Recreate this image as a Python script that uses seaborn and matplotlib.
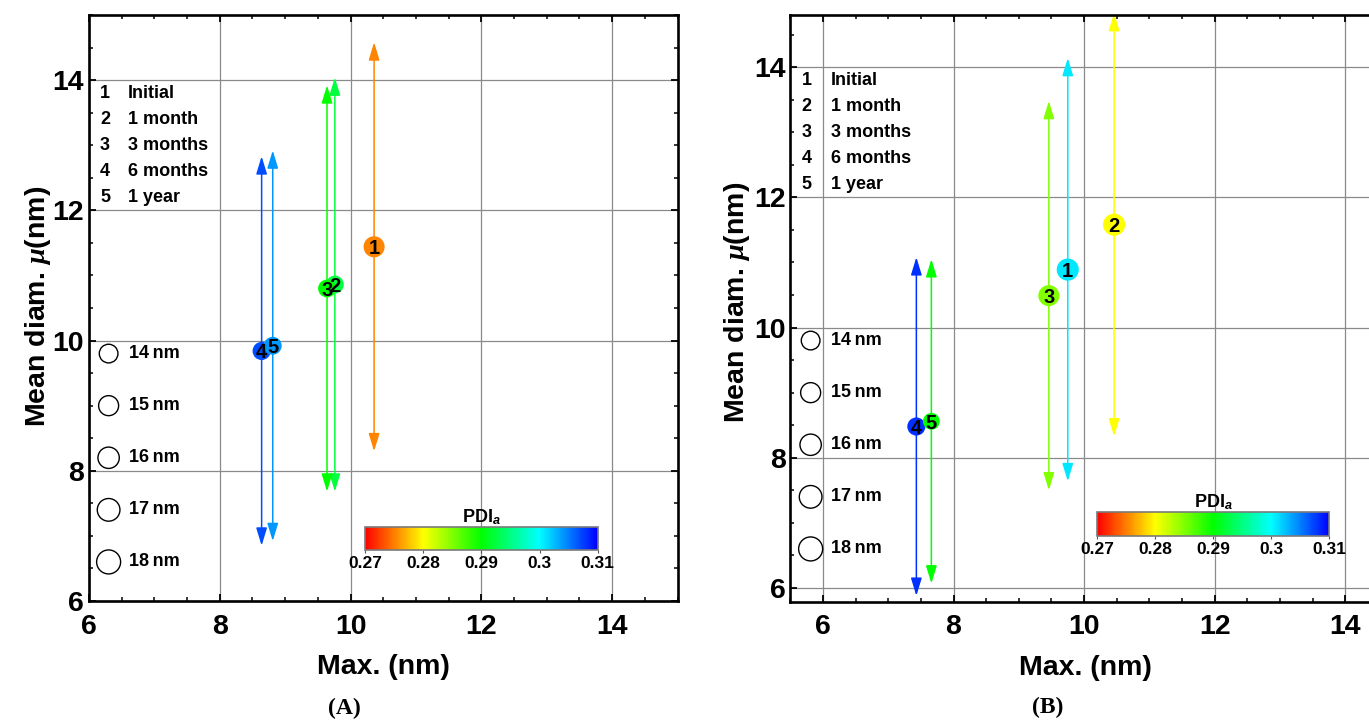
import numpy as np
import pandas as pd
import matplotlib
matplotlib.use("Agg")
import matplotlib.pyplot as plt
import seaborn as sns
from matplotlib.colors import LinearSegmentedColormap, Normalize, hsv_to_rgb
from matplotlib.cm import ScalarMappable
from matplotlib.patches import FancyArrowPatch
from matplotlib.ticker import MultipleLocator

# ---- data -------------------------------------------------------------
point_labels = ["1", "2", "3", "4", "5"]
periods = ["Initial", "1 month", "3 months", "6 months", "1 year"]
size_key_nm = [14, 15, 16, 17, 18]
pdi_ticks = [0.27, 0.28, 0.29, 0.30, 0.31]
pdi_tick_labels = ["0.27", "0.28", "0.29", "0.3", "0.31"]

# panel A
a_max = [10.36, 9.76, 9.64, 8.64, 8.81]
a_mean = [11.44, 10.86, 10.80, 9.84, 9.92]
a_sd = [3.14, 3.18, 3.12, 2.99, 3.00]
a_pdi = [0.2753, 0.2925, 0.2900, 0.3070, 0.3040]
a_size = [15.8, 13.4, 13.4, 13.6, 13.4]

# panel B
b_max = [9.75, 10.46, 9.46, 7.43, 7.66]
b_mean = [10.89, 11.58, 10.49, 8.48, 8.56]
b_sd = [3.25, 3.25, 2.99, 2.60, 2.49]
b_pdi = [0.3008, 0.2800, 0.2850, 0.3080, 0.2900]
b_size = [16.6, 16.6, 15.8, 13.6, 12.6]

# ---- style ------------------------------------------------------------
sns.set_style("white")
plt.rcParams["font.family"] = ["Liberation Sans", "DejaVu Sans"]
plt.rcParams["font.weight"] = "bold"
plt.rcParams["text.color"] = "black"
plt.rcParams["axes.labelcolor"] = "black"
plt.rcParams["xtick.color"] = "black"
plt.rcParams["ytick.color"] = "black"
plt.rcParams["mathtext.fontset"] = "custom"
plt.rcParams["mathtext.it"] = "Liberation Serif:italic"
plt.rcParams["mathtext.sf"] = "Liberation Sans:italic:bold"
plt.rcParams["mathtext.rm"] = "Liberation Sans:bold"

# red -> yellow -> green -> cyan -> blue
hues = np.linspace(0.0, 2.0 / 3.0, 256)
cmap = LinearSegmentedColormap.from_list(
    "pdi", hsv_to_rgb(np.column_stack([hues, np.ones(256), np.ones(256)])))
norm = Normalize(vmin=0.27, vmax=0.31)


def area(nm):
    return (0.96 * nm) ** 2


def draw_panel(ax, xs, ys, sds, pdis, sizes, xlim, ylim, key_num_x, key_txt_x,
               ring_x, ring_txt_x, cbar_box):
    ax.set_xlim(*xlim)
    ax.set_ylim(*ylim)

    for x, y, sd, p in zip(xs, ys, sds, pdis):
        arr = FancyArrowPatch((x, y - sd), (x, y + sd),
                              arrowstyle="<|-|>,head_length=1.08,head_width=0.33",
                              mutation_scale=10, color=cmap(norm(p)), lw=1.1,
                              shrinkA=0, shrinkB=0, zorder=2)
        ax.add_patch(arr)

    df = pd.DataFrame({"max": xs, "mean": ys, "pdi": pdis, "size": sizes})
    sns.scatterplot(data=df, x="max", y="mean", hue="pdi", hue_norm=norm,
                    palette=cmap, size="size",
                    sizes={v: area(v) for v in df["size"].unique()},
                    linewidth=0, legend=False, ax=ax, zorder=3)
    for x, y, lab in zip(xs, ys, point_labels):
        ax.text(x, y, lab, ha="center", va="center_baseline", fontsize=14.5,
                fontweight="bold", color="black", zorder=4)

    # period key
    for i, (lab, per) in enumerate(zip(point_labels, periods)):
        yk = 13.8 - 0.4 * i
        ax.text(key_num_x, yk, lab, ha="center", va="center", fontsize=13,
                fontweight="bold", color="black")
        ax.text(key_txt_x, yk, per, ha="left", va="center", fontsize=13,
                fontweight="bold", color="black")

    # size key
    for i, nm in enumerate(size_key_nm):
        yk = 9.8 - 0.8 * i
        ax.scatter([ring_x], [yk], s=area(nm), facecolors="none",
                   edgecolors="black", linewidths=1.0, zorder=3)
        ax.text(ring_txt_x, yk, f"{nm}\u2009nm", ha="left", va="center",
                fontsize=13, fontweight="bold", color="black",
                family=["Liberation Sans", "DejaVu Sans"])

    # colour bar
    cax = ax.inset_axes(cbar_box, transform=ax.transData)
    cb = plt.colorbar(ScalarMappable(norm=norm, cmap=cmap), cax=cax,
                      orientation="horizontal", ticks=pdi_ticks)
    cb.ax.set_xticklabels(pdi_tick_labels)
    cb.outline.set_edgecolor("#7a7a7a")
    cb.outline.set_linewidth(1.2)
    cb.ax.tick_params(labelsize=12.5, length=2.5, width=0.8, colors="#555555",
                      labelcolor="black", pad=2)
    for t in cb.ax.get_xticklabels():
        t.set_fontweight("bold")
    cb.ax.set_title(r"PDI$_\mathsf{a}$", fontsize=13, fontweight="bold",
                    color="black", pad=3)

    # axes decoration
    ax.xaxis.set_major_locator(MultipleLocator(2))
    ax.yaxis.set_major_locator(MultipleLocator(2))
    ax.xaxis.set_minor_locator(MultipleLocator(0.5))
    ax.yaxis.set_minor_locator(MultipleLocator(0.5))
    ax.grid(True, which="major", color="#8a8a8a", lw=0.9)
    ax.set_axisbelow(True)
    for sp in ax.spines.values():
        sp.set_visible(True)
        sp.set_color("black")
        sp.set_linewidth(1.9)
    ax.tick_params(which="both", direction="in", top=True, right=True,
                   bottom=True, left=True, colors="black")
    ax.tick_params(which="major", length=5, width=1.3, labelsize=20.5)
    ax.tick_params(which="minor", length=3, width=1.1)
    ax.tick_params(axis="x", which="major", pad=9)
    ax.tick_params(axis="y", which="major", pad=3.5)
    for t in ax.get_xticklabels() + ax.get_yticklabels():
        t.set_fontweight("bold")
    ax.set_xlabel("Max. (nm)", fontsize=20.5, fontweight="bold", color="black")
    ax.set_ylabel(r"Mean diam. $\mu$(nm)", fontsize=20.5, fontweight="bold",
                  color="black")


W, H = 1369, 720
fig = plt.figure(figsize=(W / 100, H / 100), dpi=100)

ax_a = fig.add_axes([89 / W, 1 - 601 / H, 588.5 / W, 586 / H])
draw_panel(ax_a, a_max, a_mean, a_sd, a_pdi, a_size,
           xlim=(6, 15), ylim=(6, 15),
           key_num_x=6.245, key_txt_x=6.6, ring_x=6.3, ring_txt_x=6.61,
           cbar_box=[10.22, 6.78, 3.56, 0.36])
ax_a.xaxis.set_label_coords(0.5, -0.09)
ax_a.yaxis.set_label_coords(-0.062, 0.503)

ax_b = fig.add_axes([790.4 / W, 1 - 602 / H, 620 / W, 587 / H])
draw_panel(ax_b, b_max, b_mean, b_sd, b_pdi, b_size,
           xlim=(5.5, 15), ylim=(5.785, 14.8),
           key_num_x=5.75, key_txt_x=6.12, ring_x=5.81, ring_txt_x=6.12,
           cbar_box=[10.2, 6.8, 3.56, 0.37])
ax_b.xaxis.set_label_coords((1085 - 790.4) / 620, -0.09)
ax_b.yaxis.set_label_coords(-0.062, 0.51)

fig.text(344 / W, 1 - 708 / H, "(A)", ha="center", va="center", fontsize=17,
         fontweight="bold", color="black", family="Liberation Serif")
fig.text(1048 / W, 1 - 707 / H, "(B)", ha="center", va="center", fontsize=17,
         fontweight="bold", color="black", family="Liberation Serif")

fig.savefig("out.png", dpi=100)
